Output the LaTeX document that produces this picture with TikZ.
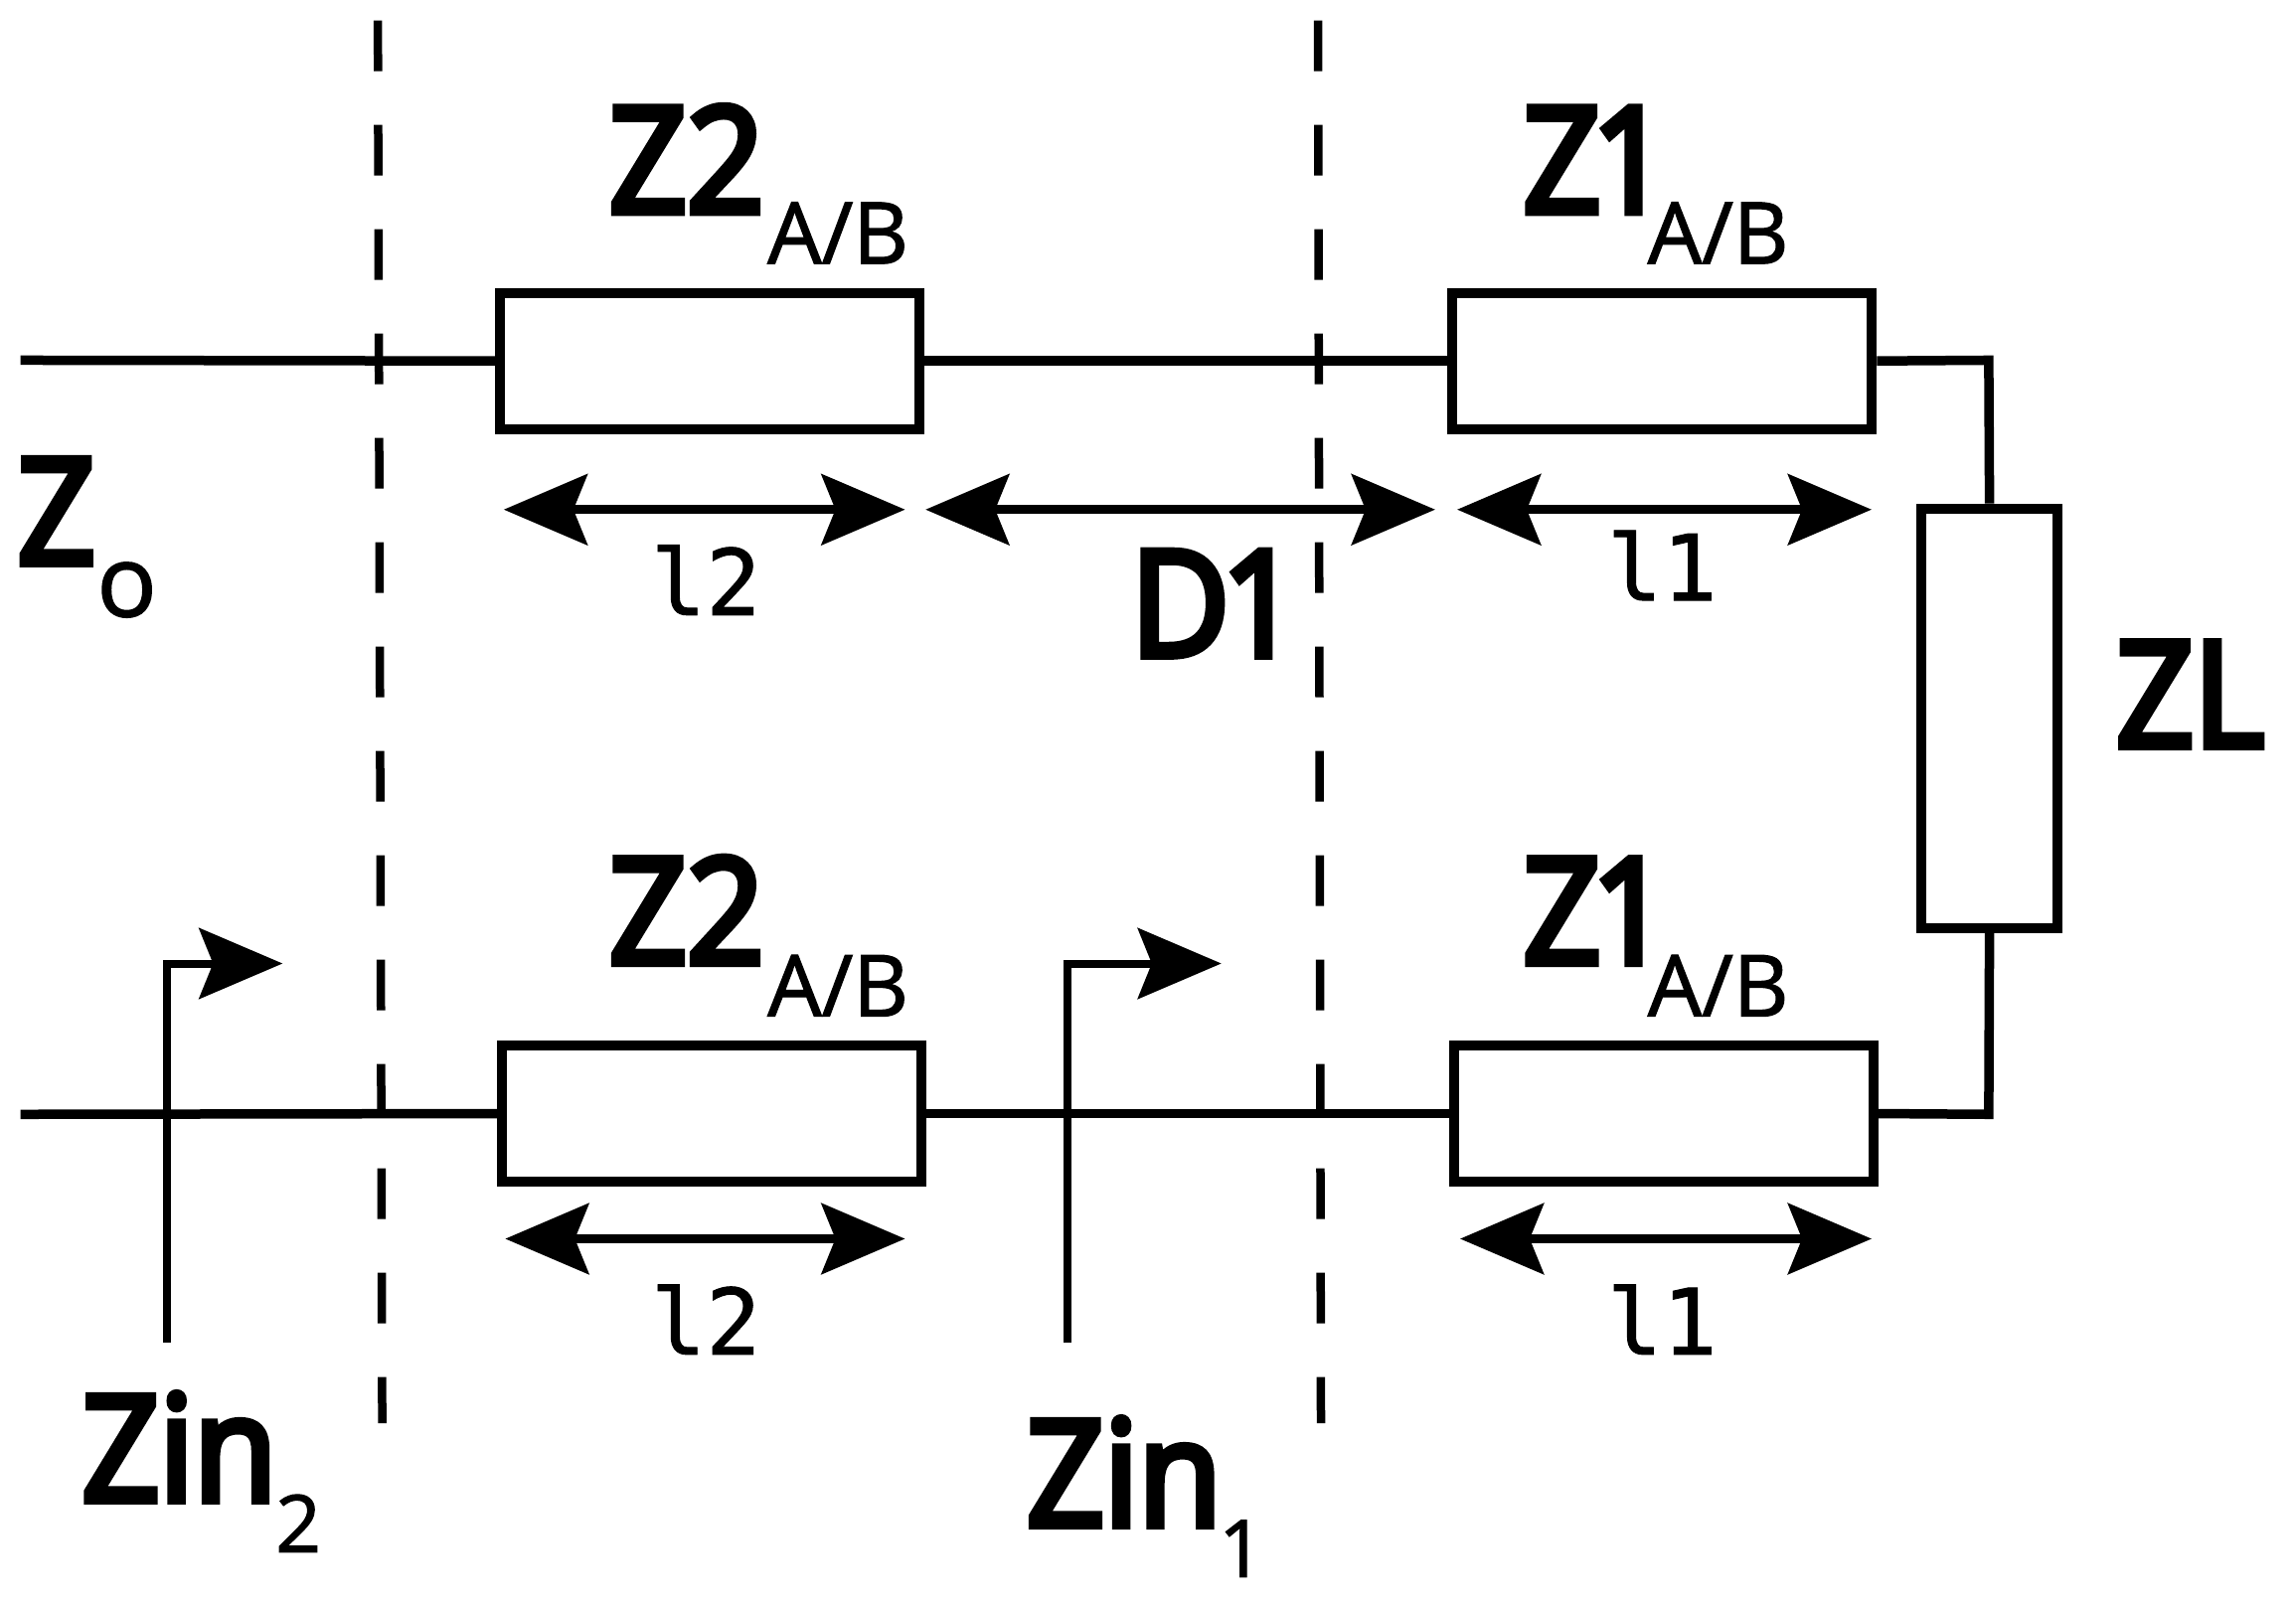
\documentclass[tikz,border=0pt]{standalone}
\usepackage{fontspec}
\usetikzlibrary{arrows.meta}
\newfontfamily\lab[FakeStretch=0.92,FakeBold=5]{Open Sans}
\newfontfamily\labreg[FakeBold=1.5]{Open Sans}
\newfontfamily\labmono[FakeBold=1]{DejaVu Sans Mono}
\begin{document}
\begin{tikzpicture}[x=1.4734pt,y=-1.4734pt,
  wire/.style={line width=9.5pt,line join=miter},
  bar/.style={line width=8.5pt,dash pattern=on 51pt off 54pt},
  dim/.style={line width=9pt,{Stealth[length=84pt,width=71pt,inset=14pt]}-{Stealth[length=84pt,width=71pt,inset=14pt]}},
  look/.style={line width=8pt,-{Stealth[length=84pt,width=71pt,inset=14pt]}},
  hbox/.style={draw,line width=10pt,minimum width=422pt,minimum height=137pt,inner sep=0pt,fill=white},
  vbox/.style={draw,line width=10pt,minimum width=137pt,minimum height=422pt,inner sep=0pt,fill=white},
  big/.style={anchor=base west,inner sep=0pt,font=\lab\fontsize{148}{148}\selectfont},
  sub/.style={anchor=base west,inner sep=0pt,font=\labreg\fontsize{86}{86}\selectfont},
  num/.style={anchor=base west,inner sep=0pt,font=\labreg\fontsize{80}{80}\selectfont},
  small/.style={anchor=base,inner sep=0pt,font=\labmono\fontsize{92}{92}\selectfont}]
\useasboundingbox (0,0) rectangle (1567.8,1095.4);
\fill[white] (0,0) rectangle (1567.8,1095.4);
% dashed section lines
\coordinate (d1a) at (258,14); \coordinate (d1b) at (261,972);
\coordinate (d2a) at (900,14); \coordinate (d2b) at (902,972);
\draw[bar] (d1a) -- (d1b);
\draw[bar] (d2a) -- (d2b);
% impedance boxes
\coordinate (ws1) at (14,246);
\coordinate (ws2) at (14,761);
\coordinate (c1) at (1358,246);
\coordinate (c2) at (1358,761);
\node[hbox] (t2) at (484.5,246.5) {};
\node[hbox] (t1) at (1135,246.5) {};
\node[hbox] (b2) at (486,760.5) {};
\node[hbox] (b1) at (1136,760.5) {};
\node[vbox] (zl) at (1358.5,490.5) {};
% wires
\draw[wire] (ws1) -- (t2.west);
\draw[wire] (t2.east) -- (t1.west);
\draw[wire] (t1.east) -- (c1) -- (zl.north);
\draw[wire] (ws2) -- (b2.west);
\draw[wire] (b2.east) -- (b1.west);
\draw[wire] (b1.east) -- (c2) -- (zl.south);
% dimension arrows
\coordinate (a1) at (344,348); \coordinate (a2) at (618,348);
\coordinate (a3) at (632,348); \coordinate (a4) at (980,348);
\coordinate (a5) at (995,348); \coordinate (a6) at (1278,348);
\coordinate (a7) at (345,846); \coordinate (a8) at (618,846);
\coordinate (a9) at (997,846); \coordinate (a10) at (1278,846);
\draw[dim] (a1) -- (a2);
\draw[dim] (a3) -- (a4);
\draw[dim] (a5) -- (a6);
\draw[dim] (a7) -- (a8);
\draw[dim] (a9) -- (a10);
% input-impedance arrows
\coordinate (i1) at (114,917); \coordinate (i2) at (114,658); \coordinate (i3) at (193,658);
\coordinate (j1) at (729,917); \coordinate (j2) at (729,658); \coordinate (j3) at (834,658);
\draw[look] (i1) -- (i2) -- (i3);
\draw[look] (j1) -- (j2) -- (j3);
% labels
\node[big] (lz2t) at (416,145) {Z2};
\node[sub] (lz2ts) at (524,180) {A/B};
\node[big] (lz1t) at (1040,145) {Z\kern-9pt 1};
\node[sub] (lz1ts) at (1125,180) {A/B};
\node[big] (lz2b) at (416,658) {Z2};
\node[sub] (lz2bs) at (524,694) {A/B};
\node[big] (lz1b) at (1040,658) {Z\kern-9pt 1};
\node[sub] (lz1bs) at (1125,694) {A/B};
\node[big] (lzo) at (12,385) {Z};
\node[sub,font=\labreg\fontsize{100}{100}\selectfont] (lzos) at (66,421) {o};
\node[big] (lzin2) at (56,1025) {Zin};
\node[num] (lzin2s) at (188,1060) {2};
\node[big] (lzin1) at (701,1042) {Zin};
\node[num] (lzin1s) at (832,1077) {1};
\node[big] (lzl) at (1445,510) {ZL};
\node[big] (ld1) at (772,448) {D\kern-8pt 1};
\node[small] (ll2t) at (482,420) {l2};
\node[small] (ll1t) at (1135,410) {l1};
\node[small] (ll2b) at (482,925) {l2};
\node[small] (ll1b) at (1135,925) {l1};
\end{tikzpicture}
\end{document}
